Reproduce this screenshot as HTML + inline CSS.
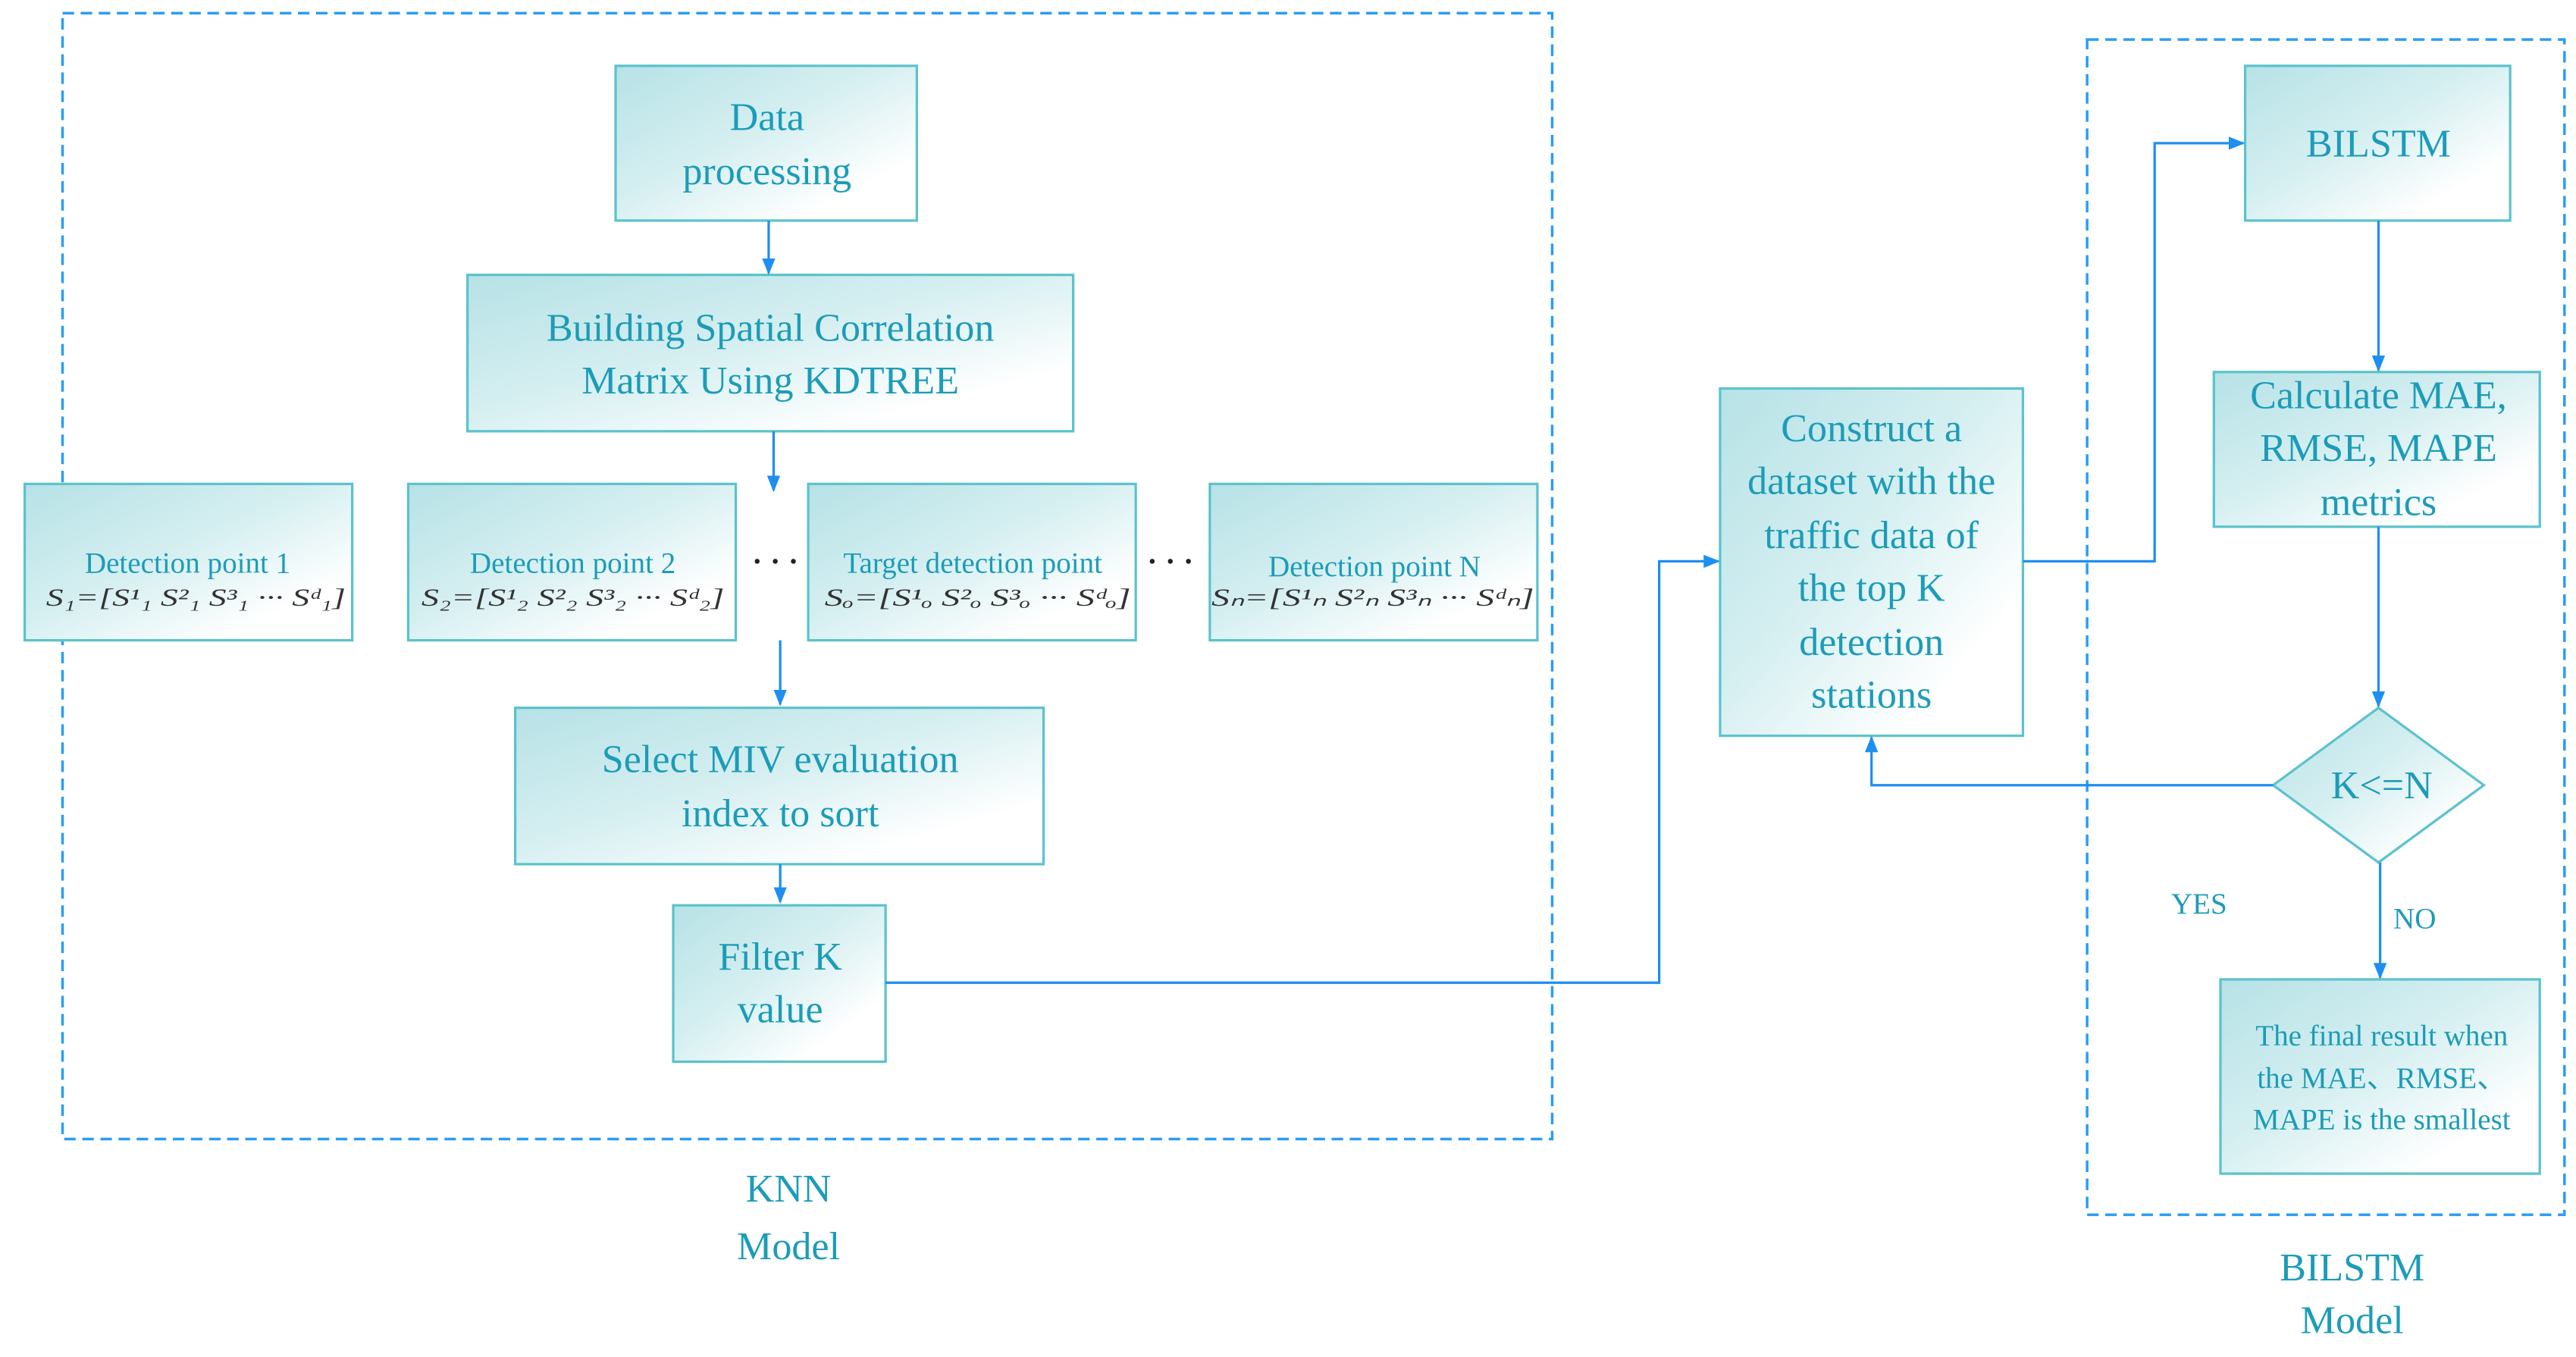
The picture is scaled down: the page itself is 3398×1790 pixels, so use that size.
<!DOCTYPE html>
<html><head><meta charset="utf-8"><style>html,body{margin:0;padding:0;background:#fff}svg{display:block}</style></head>
<body>
<svg width="3398" height="1790" viewBox="0 0 1565 824.4" preserveAspectRatio="none" xmlns="http://www.w3.org/2000/svg" font-family="'Liberation Serif', serif">
<defs>
<linearGradient id="g" x1="0" y1="0" x2="1" y2="1">
<stop offset="0" stop-color="#b6e2e6"/><stop offset="0.45" stop-color="#d6eff1"/><stop offset="0.8" stop-color="#ffffff"/><stop offset="1" stop-color="#ffffff"/></linearGradient>
<marker id="a" markerWidth="10" markerHeight="8" refX="9" refY="4" orient="auto" markerUnits="userSpaceOnUse"><path d="M0,0 L10,4 L0,8 Z" fill="#1e8ff0"/></marker>
</defs>
<g fill="none" stroke="#2a9df4" stroke-width="1.6" stroke-dasharray="7,4">
<rect x="38" y="8" width="905" height="684"/>
<rect x="1268" y="24" width="290" height="714"/>
</g>
<g fill="url(#g)" stroke="#5cc3cc" stroke-width="1.5">
<rect x="374" y="40" width="183" height="94"/>
<rect x="284" y="167" width="368" height="95"/>
<rect x="15" y="294" width="199" height="95"/>
<rect x="248" y="294" width="199" height="95"/>
<rect x="491" y="294" width="199" height="95"/>
<rect x="735" y="294" width="199" height="95"/>
<rect x="313" y="430" width="321" height="95"/>
<rect x="409" y="550" width="129" height="95"/>
<rect x="1045" y="236" width="184" height="211"/>
<rect x="1364" y="40" width="161" height="94"/>
<rect x="1345" y="226" width="198" height="94"/>
<polygon points="1445,430 1509,477 1445,524 1381,477"/>
<rect x="1349" y="595" width="194" height="118"/>
</g>
<g fill="none" stroke="#1e8ff0" stroke-width="1.5" marker-end="url(#a)">
<path d="M467,134 V166"/>
<path d="M470,262 V298"/>
<path d="M474,389 V428"/>
<path d="M474,525 V548"/>
<path d="M538,597 H1008 V341 H1044"/>
<path d="M1229,341 H1309 V87 H1363"/>
<path d="M1445,134 V225"/>
<path d="M1445,320 V429"/>
<path d="M1381,477 H1137 V448"/>
<path d="M1446,524 V594"/>
</g>
<g fill="#222"><circle cx="460" cy="341" r="1.5"/><circle cx="471" cy="341" r="1.5"/><circle cx="482" cy="341" r="1.5"/><circle cx="700" cy="341" r="1.5"/><circle cx="711" cy="341" r="1.5"/><circle cx="722" cy="341" r="1.5"/></g>
<g fill="#1c9cb8" font-size="24" text-anchor="middle">
<text x="466" y="79">Data</text><text x="466" y="112">processing</text>
<text x="468" y="207">Building Spatial Correlation</text><text x="468" y="239">Matrix Using KDTREE</text>
<text x="474" y="469">Select MIV evaluation</text><text x="474" y="502">index to sort</text>
<text x="474" y="589">Filter K</text><text x="474" y="621">value</text>
<text x="1137" y="268">Construct a</text><text x="1137" y="300">dataset with the</text><text x="1137" y="333">traffic data of</text><text x="1137" y="365">the top K</text><text x="1137" y="398">detection</text><text x="1137" y="430">stations</text>
<text x="1445" y="95">BILSTM</text>
<text x="1445" y="248">Calculate MAE,</text><text x="1445" y="280">RMSE, MAPE</text><text x="1445" y="313">metrics</text>
<text x="1447" y="485">K&lt;=N</text>
</g>
<g fill="#1c9cb8" font-size="18" text-anchor="middle">
<text x="114" y="348">Detection point 1</text>
<text x="348" y="348">Detection point 2</text>
<text x="591" y="348">Target detection point</text>
<text x="835" y="350">Detection point N</text>
<text x="1447" y="635">The final result when</text>
<text x="1447" y="661">the MAE、RMSE、</text>
<text x="1447" y="686">MAPE is the smallest</text>
</g>
<g fill="#1c9cb8" font-size="18"><text x="1319" y="555">YES</text><text x="1454" y="564">NO</text></g>
<g fill="#1c9cb8" font-size="24" text-anchor="middle">
<text x="479" y="730">KNN</text><text x="479" y="765">Model</text>
<text x="1429" y="778">BILSTM</text><text x="1429" y="810">Model</text>
</g>
<g fill="#333" font-size="15" font-style="italic">
<text x="28" y="368" textLength="182" lengthAdjust="spacingAndGlyphs">S₁=[S¹₁   S²₁   S³₁   ···   Sᵈ₁]</text>
<text x="256" y="368" textLength="184" lengthAdjust="spacingAndGlyphs">S₂=[S¹₂   S²₂   S³₂   ···   Sᵈ₂]</text>
<text x="501" y="368" textLength="186" lengthAdjust="spacingAndGlyphs">Sₒ=[S¹ₒ   S²ₒ   S³ₒ   ···   Sᵈₒ]</text>
<text x="736" y="368" textLength="196" lengthAdjust="spacingAndGlyphs">Sₙ=[S¹ₙ   S²ₙ   S³ₙ   ···   Sᵈₙ]</text>
</g>
</svg>
</body></html>
